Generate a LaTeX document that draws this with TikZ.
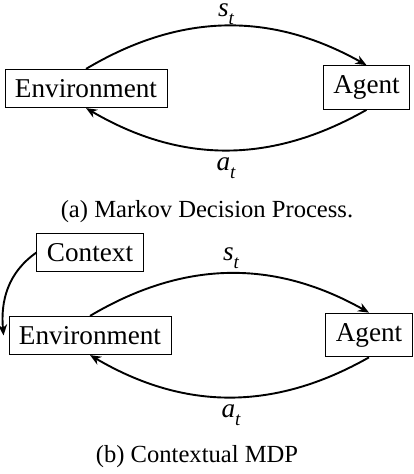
\documentclass[tikz,border=0pt]{standalone}
\usepackage{fontspec}
\setmainfont{Liberation Serif}
\usetikzlibrary{arrows.meta}
\newcommand{\myvar}[2]{{\itshape #1}\raisebox{-0.3em}{\fontsize{19}{19}\selectfont\itshape #2}}
\begin{document}
\begin{tikzpicture}[x=1pt,y=-1pt,
  box/.style={draw,line width=0.9pt,inner sep=10pt,font=\fontsize{27.2}{32}\selectfont},
  lbl/.style={font=\fontsize{27.2}{32}\selectfont,inner sep=0pt},
  captxt/.style={font=\fontsize{24.6}{29}\selectfont,inner sep=0pt},
  arc/.style={line width=1.9pt,-{Stealth[length=11pt,width=9pt,inset=3.5pt]}}]
\useasboundingbox (0,0) rectangle (414,474);
% (a)
\node[box] (env1) at (86,88.5) {Environment};
\node[box] (ag1) at (366.5,87.5) {Agent};
\draw[arc] (env1.north) to[bend left=30] (ag1.north);
\draw[arc] (ag1.south) to[bend left=30] (env1.south);
\node[lbl] (s1) at (226,14) {\myvar{s}{t}};
\node[lbl] (a1) at (226,168) {\myvar{a}{t}};
\node[captxt] (capa) at (207,212) {(a) Markov Decision Process.};
% (b)
\node[box] (ctx) at (90,252.5) {Context};
\node[box] (env2) at (90,335.5) {Environment};
\node[box] (ag2) at (369,335) {Agent};
\draw[arc] (env2.north) to[bend left=30] (ag2.north);
\draw[arc] (ag2.south) to[bend left=30] (env2.south);
\draw[arc] (ctx.west) to[out=215,in=95] ([xshift=-5pt]env2.west);
\node[lbl] (s2) at (231,258) {\myvar{s}{t}};
\node[lbl] (a2) at (231,415) {\myvar{a}{t}};
\node[captxt] (capb) at (197,457) {(b) Contextual MDP};
\end{tikzpicture}
\end{document}
